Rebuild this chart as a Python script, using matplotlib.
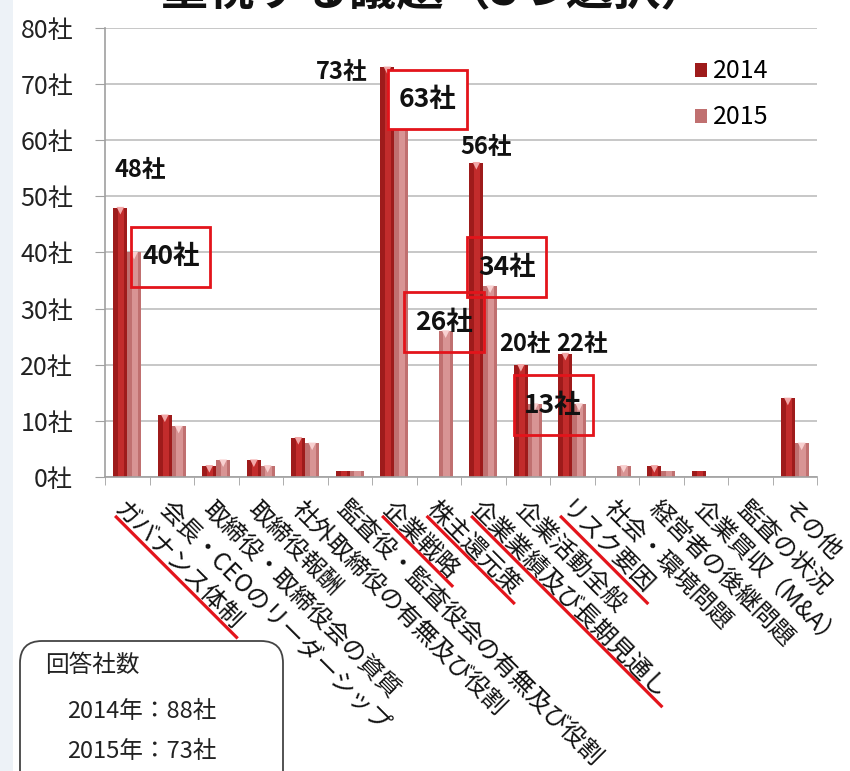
import matplotlib
matplotlib.use('Agg')
import matplotlib.pyplot as plt
from matplotlib.patches import Rectangle, FancyBboxPatch, Patch
from matplotlib.lines import Line2D
from matplotlib.transforms import IdentityTransform
import numpy as np

plt.rcParams['font.family'] = ['Noto Sans CJK JP', 'DejaVu Sans']

# ---------------- data ----------------
title = '重視する議題（3つ選択）'
categories = ['ガバナンス体制', '会長・CEOのリーダーシップ', '取締役・取締役会の資質',
              '取締役報酬', '社外取締役の有無及び役割', '監査役・監査役会の有無及び役割',
              '企業戦略', '株主還元策', '企業業績及び長期見通し', '企業活動全般',
              'リスク要因', '社会・環境問題', '経営者の後継問題', '企業買収（M&A）',
              '監査の状況', 'その他']
v2014 = [48, 11, 2, 3, 7, 1, 73, 0, 56, 20, 22, 0, 2, 1, 0, 14]
v2015 = [40, 9, 3, 2, 6, 1, 63, 26, 34, 13, 13, 2, 1, 0, 0, 6]
series_names = ['2014', '2015']
ytick_values = [0, 10, 20, 30, 40, 50, 60, 70, 80]
unit = '社'
plain_label_cats = [0, 6, 8, 9, 10]      # 2014 values labelled
boxed_label_cats = [0, 6, 7, 8, 9]       # 2015 values labelled in red boxes
underlined_cats = [0, 6, 7, 8, 10]
resp_header = '回答社数'
resp_years = ['2014年', '2015年']
resp_counts = [88, 73]

# ---------------- layout / style ----------------
W, H = 850, 771
fig = plt.figure(figsize=(W / 100, H / 100), dpi=100)
fig.patch.set_facecolor('white')
fig.add_artist(Rectangle((0, 0), 13 / W, 1, transform=fig.transFigure,
                         facecolor='#EDF2F7', edgecolor='none', zorder=0))

ax = fig.add_axes([105 / W, 1 - 477 / H, 712 / W, 449 / H])
ax.set_facecolor('white')
x = np.arange(len(categories))
bw = 0.31
c14_out, c14_in, c14_tri = '#9E1B1B', '#C22C2C', '#F2A7A7'
c15_out, c15_in, c15_tri = '#C07070', '#D89494', '#F8D0D0'

for vals, off, co, ci, ct in [(v2014, -bw / 2, c14_out, c14_in, c14_tri),
                              (v2015, bw / 2, c15_out, c15_in, c15_tri)]:
    ax.bar(x + off, vals, width=bw, color=co, zorder=2)
    ax.bar(x + off + 0.02, vals, width=bw * 0.45, color=ci, zorder=2.1)
    tv = np.array(vals, dtype=float)
    m = tv >= 2
    ax.scatter((x + off)[m], tv[m] - 0.55, marker='v', s=30, color=ct,
               edgecolors='none', zorder=2.2)

ax.set_xlim(-0.5, len(categories) - 0.5)
ax.set_ylim(0, 80)
ax.set_yticks(ytick_values)
ax.set_yticklabels([f'{v}{unit}' for v in ytick_values], fontsize=18, color='#222222')
ax.tick_params(axis='y', length=7, color='#A0A0A0', pad=16)
ax.set_xticks(x)
ax.set_xticklabels(categories, rotation=-45, ha='left', va='top',
                   rotation_mode='anchor', fontsize=17.5, color='#111111')
ax.tick_params(axis='x', which='major', length=0, pad=14)
ax.set_xticks(np.arange(-0.5, len(categories), 1), minor=True)
ax.tick_params(axis='x', which='minor', length=6, color='#A0A0A0')
ax.yaxis.grid(True, color='#BDBDBD', lw=1.2)
ax.set_axisbelow(True)
for s in ['top', 'right']:
    ax.spines[s].set_visible(False)
for s in ['left', 'bottom']:
    ax.spines[s].set_color('#A0A0A0')
    ax.spines[s].set_linewidth(1.2)

# plain value labels (2014)
plain_offsets = {0: (0.29, 6.7), 6: (-1.17, -0.8), 8: (0.06, 2.8),
                 9: (-0.06, 3.7), 10: (0.22, 1.7)}
for c in plain_label_cats:
    dx, dy = plain_offsets[c]
    ax.text(c + dx, v2014[c] + dy, f'{v2014[c]}{unit}', ha='center', va='center',
            fontsize=17, fontweight='bold', color='#111111', zorder=5)

# boxed value labels (2015)
boxed_offsets = {0: (0.98, -0.8), 6: (0.74, 4.3), 7: (0.12, 1.6),
                 8: (0.53, 3.4), 9: (0.57, -0.2)}
bwid, bhei = 1.78, 10.6
for c in boxed_label_cats:
    dx, dy = boxed_offsets[c]
    cx, cy = c + dx, v2015[c] + dy
    fill = 'white' if c == 6 else 'none'
    ax.add_patch(Rectangle((cx - bwid / 2, cy - bhei / 2), bwid, bhei,
                           facecolor=fill, edgecolor='#E3141B', lw=2, zorder=4))
    ax.text(cx, cy, f'{v2015[c]}{unit}', ha='center', va='center',
            fontsize=19, fontweight='bold', color='#111111', zorder=5)

# red underlines on selected category labels
em_px = 17.5 * 100 / 72
for c in underlined_cats:
    px, py = ax.transData.transform((c, 0))
    sx, sy = px - 11, py - 40
    L = len(categories[c]) * em_px / np.sqrt(2)
    fig.add_artist(Line2D([sx, sx + L], [sy, sy - L], color='#E3141B', lw=2.3,
                          transform=IdentityTransform(), zorder=6))

# legend
handles = [Patch(facecolor=c14_out, edgecolor='none'),
           Patch(facecolor=c15_out, edgecolor='none')]
fig.legend(handles, series_names, loc='upper left',
           bbox_to_anchor=(672 / W, 1 - 36 / H), bbox_transform=fig.transFigure,
           frameon=False, fontsize=18, handlelength=0.5, handleheight=0.5,
           handletextpad=0.25, labelspacing=0.8)

# title (cut off at the top)
fig.text(435 / W, 1 + 9 / H, title, ha='center', va='center', fontsize=34,
         fontweight='bold', color='#111111')

# respondents box
fig.add_artist(FancyBboxPatch((20, -30), 263, H - 641 + 30,
                              boxstyle='round,pad=0,rounding_size=22',
                              facecolor='white', edgecolor='#444444', lw=1.3,
                              transform=IdentityTransform(), zorder=3))
fig.text(45 / W, 1 - 665 / H, resp_header, ha='left', va='center', fontsize=17,
         color='#222222', zorder=4)
for i, (yr, n) in enumerate(zip(resp_years, resp_counts)):
    fig.text(67 / W, 1 - (712 + 40 * i) / H, f'{yr}：{n}{unit}', ha='left',
             va='center', fontsize=17, color='#222222', zorder=4)

fig.savefig('out.png', dpi=100)
